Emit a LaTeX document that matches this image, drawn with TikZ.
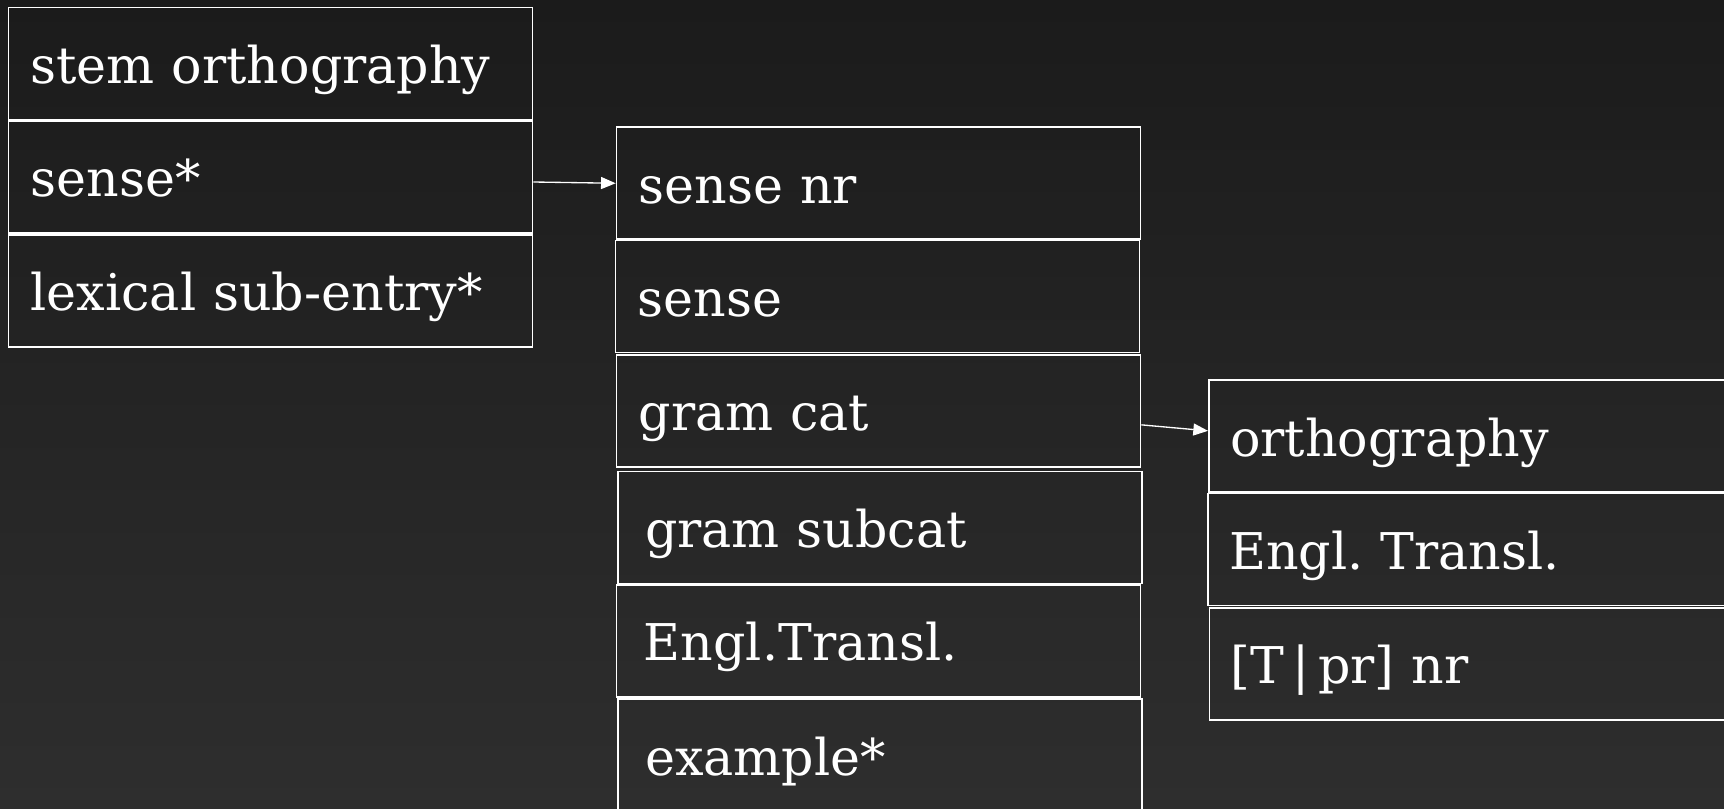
\documentclass[tikz,border=0pt]{standalone}
\usepackage{fontspec}
\setmainfont{DejaVu Serif}
\usetikzlibrary{arrows.meta}
\definecolor{bgtop}{HTML}{1B1B1B}
\definecolor{bgbot}{HTML}{2E2E2E}
\frenchspacing

\begin{document}
\begin{tikzpicture}[x=0.75pt,y=0.75pt,yscale=-1,xscale=1,
  field/.style={draw=white, line width=1.3pt, anchor=north west, minimum height=84pt,
    inner xsep=16.5pt, text width=360pt, text height=36pt, text depth=6pt,
    align=left, text=white, font=\fontsize{38}{44}\selectfont},
  fieldwide/.style={field, inner xsep=20.5pt, text width=352pt},
  conn/.style={draw=white, line width=1pt, -{Triangle[length=11pt,width=9pt]}}]
\useasboundingbox (0,0) rectangle (1724,809);
\shade[top color=bgtop, bottom color=bgbot] (0,0) rectangle (1724,809);
\clip (0,0) rectangle (1724,809);
% entry
\node[field] (stem) at (7.7,6.6) {stem orthography};
\node[field] (senses) at (7.7,119.8) {sense*};
\node[field] (lexsub) at (7.7,234) {lexical sub-entry*};
% sense
\node[field] (sensenr) at (615.7,126.4) {sense nr};
\node[field] (sense) at (614.6,239.7) {sense};
\node[field] (gramcat) at (615.7,354) {gram cat};
\node[fieldwide] (gramsub) at (616.8,470.6) {gram subcat};
\node[fieldwide] (engl) at (615.7,583.8) {Engl.Transl.};
\node[fieldwide] (example) at (616.8,698.2) {example*};
% gram cat
\node[field, inner xsep=16pt, text width=366pt] (ortho) at (1208,379.3) {orthography};
\node[field, inner xsep=16pt, text width=366pt] (englr) at (1207,492.6) {Engl. Transl.};
\node[field, inner xsep=16pt, text width=366pt] (trnr) at (1208.5,607) {[T\,|\,pr] nr};
\draw[conn] ([yshift=4pt]senses.east) -- (sensenr.west);
\draw[conn] ([yshift=10.5pt]gramcat.east) -- ([yshift=-4pt]ortho.west);
\end{tikzpicture}
\end{document}
